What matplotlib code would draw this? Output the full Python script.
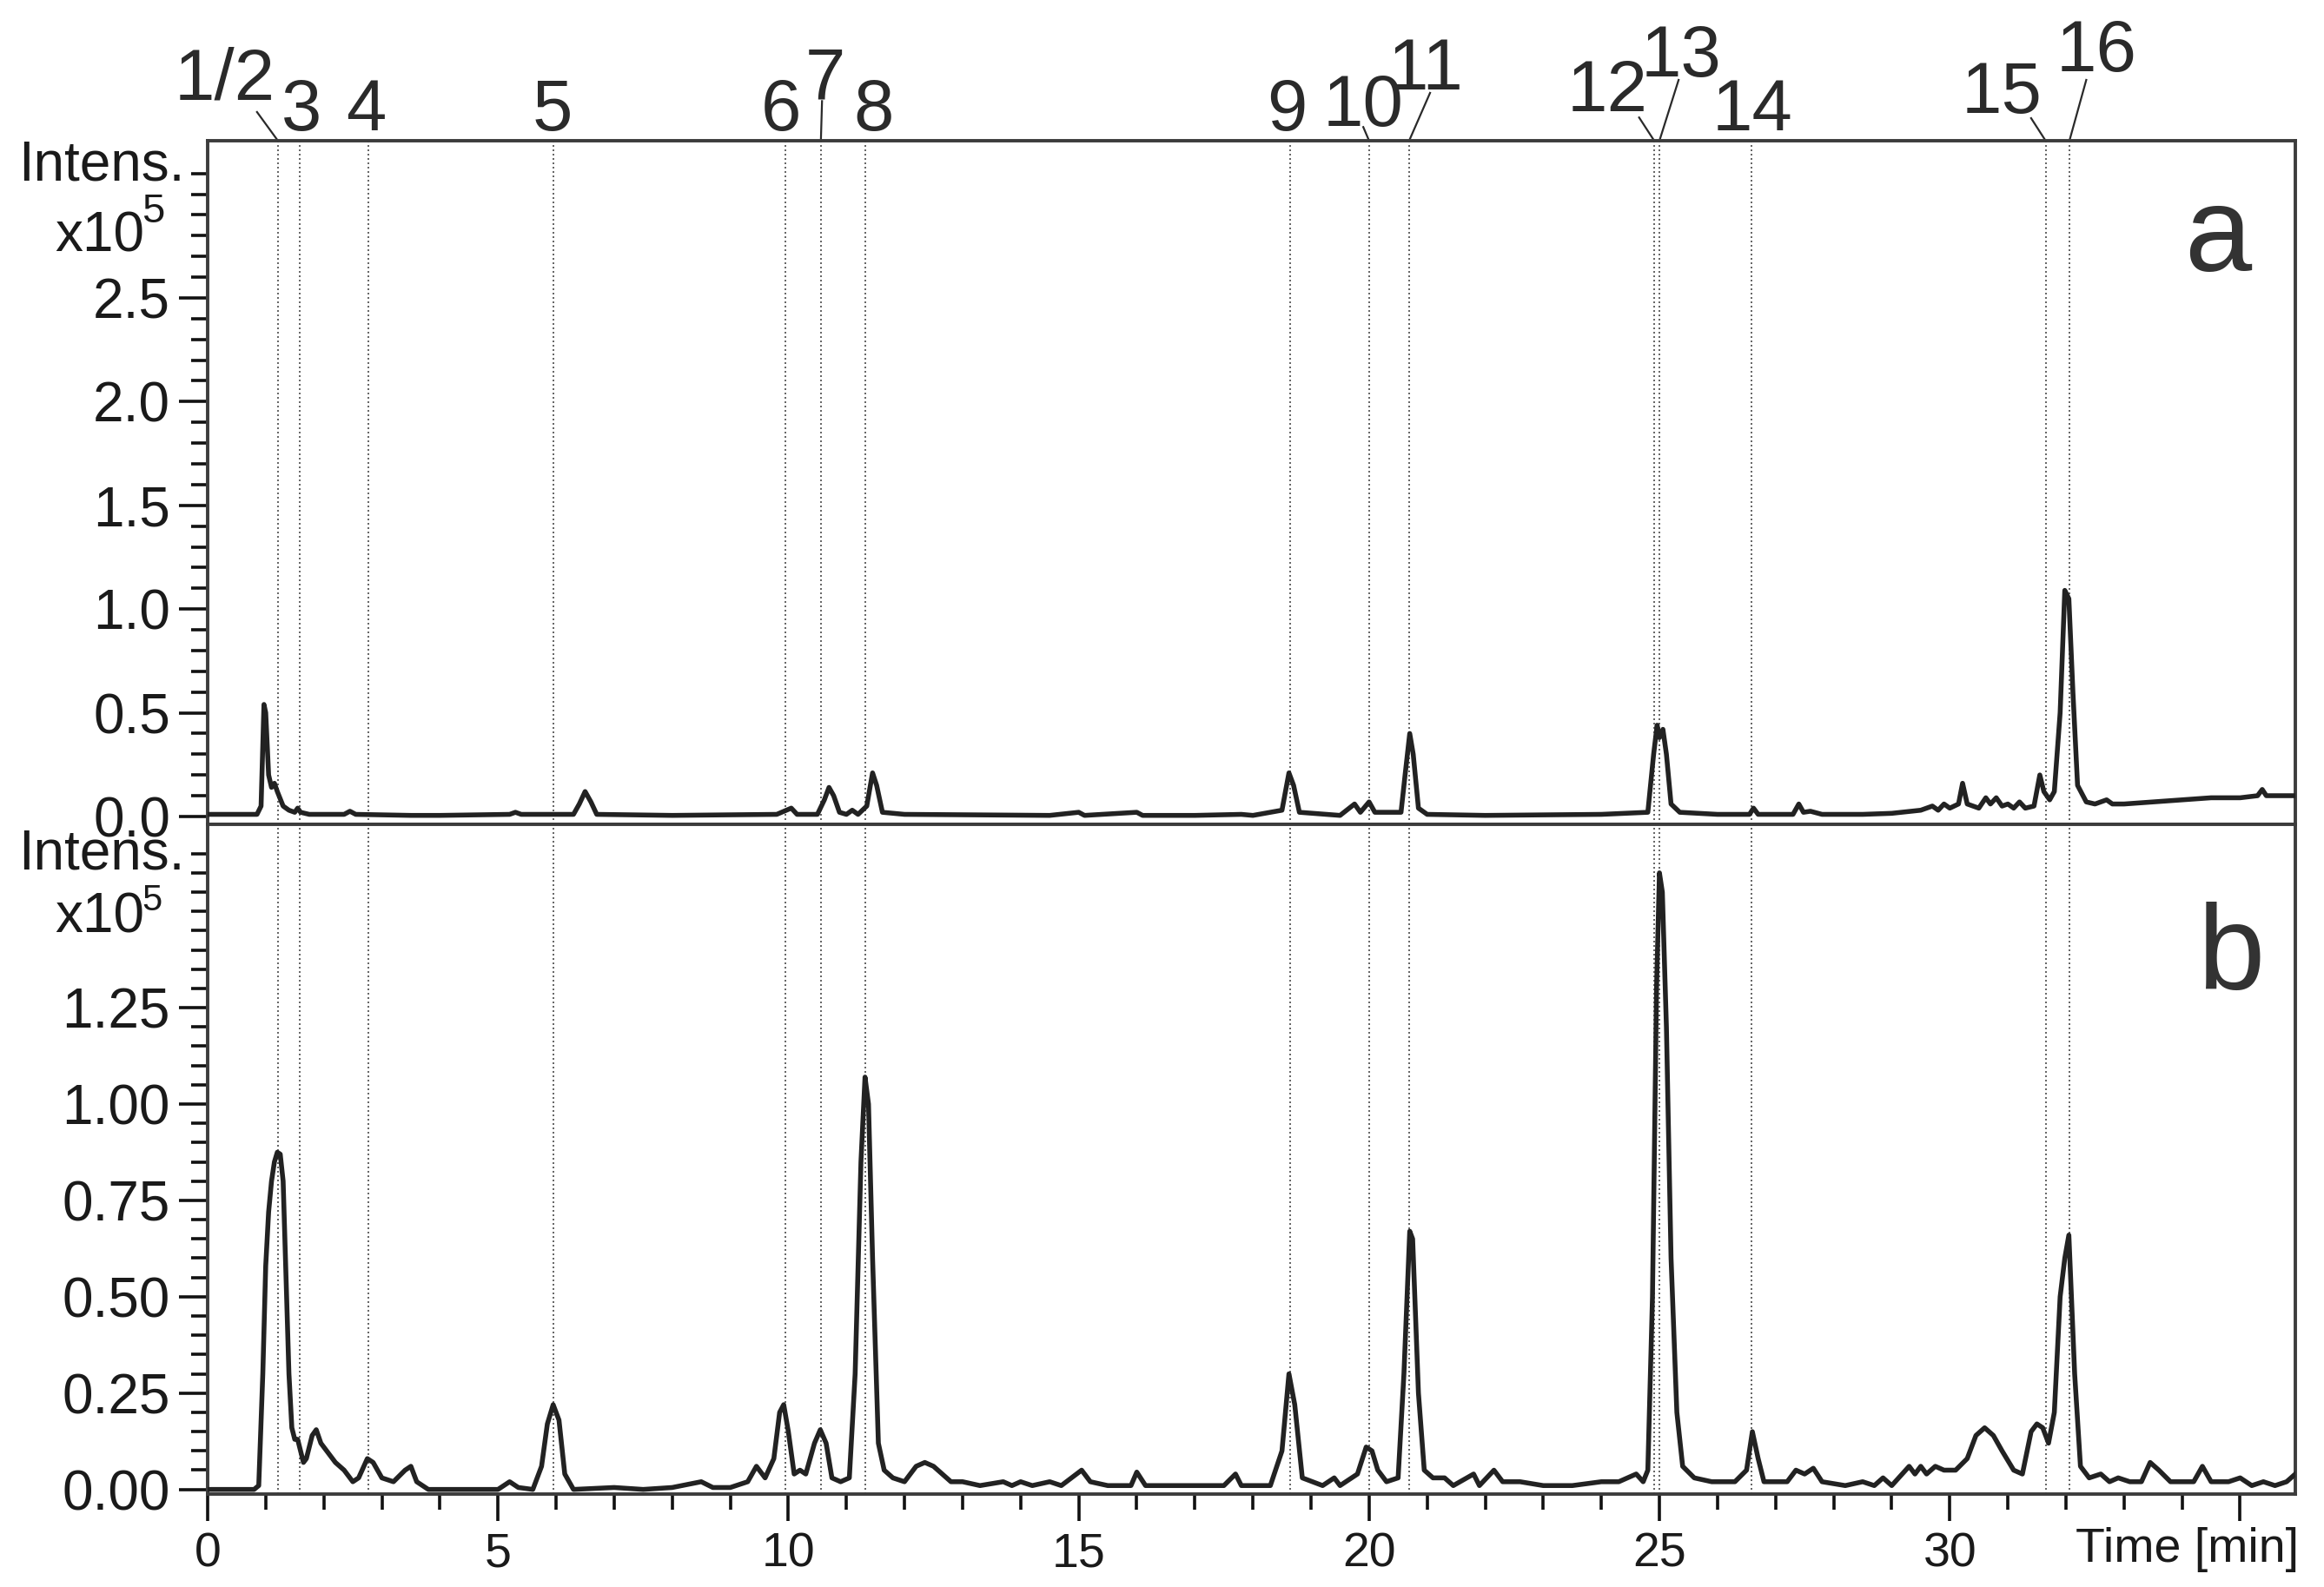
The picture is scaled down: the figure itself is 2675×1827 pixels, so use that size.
import matplotlib
matplotlib.use("Agg")
import matplotlib.pyplot as plt
from matplotlib.ticker import MultipleLocator, FixedLocator, FormatStrFormatter

# ---------------- data (intensity in units of 1e5) ----------------
time_a = [0.0, 0.85, 0.92, 0.97, 1.0, 1.05, 1.1, 1.15, 1.2, 1.3, 1.4, 1.5, 1.55, 1.6, 1.75,
          2.0, 2.35, 2.45, 2.55, 3.5, 4.0, 5.2, 5.3, 5.4, 6.3, 6.4, 6.5, 6.6, 6.7, 8.0,
          9.8, 10.05, 10.15, 10.5, 10.62, 10.7, 10.78, 10.88, 11.0, 11.1, 11.2, 11.35,
          11.45, 11.52, 11.62, 12.0, 14.5, 15.0, 15.1, 16.0, 16.1, 17.0, 17.8, 18.0,
          18.5, 18.62, 18.7, 18.8, 19.5, 19.75, 19.85, 20.0, 20.1, 20.55, 20.62, 20.7,
          20.76, 20.85, 21.0, 22.0, 24.0, 24.8, 24.9, 24.96, 25.0, 25.06, 25.12, 25.2,
          25.35, 26.0, 26.55, 26.62, 26.7, 27.3, 27.4, 27.48, 27.6, 27.8, 28.5, 29.0,
          29.5, 29.7, 29.8, 29.9, 30.0, 30.15, 30.22, 30.3, 30.5, 30.62, 30.7, 30.8,
          30.9, 31.0, 31.1, 31.2, 31.3, 31.45, 31.55, 31.62, 31.72, 31.8, 31.9, 31.98,
          32.05, 32.12, 32.2, 32.35, 32.5, 32.7, 32.8, 33.0, 33.5, 34.0, 34.5, 35.0,
          35.3, 35.38, 35.45, 36.0]
intens_a = [0.01, 0.01, 0.05, 0.54, 0.50, 0.20, 0.14, 0.16, 0.12, 0.05, 0.03, 0.02, 0.04, 0.02, 0.01,
            0.01, 0.01, 0.025, 0.01, 0.005, 0.005, 0.01, 0.02, 0.01, 0.01, 0.06, 0.12, 0.07, 0.01, 0.005,
            0.01, 0.04, 0.01, 0.01, 0.08, 0.14, 0.10, 0.02, 0.01, 0.03, 0.01, 0.05,
            0.21, 0.15, 0.02, 0.01, 0.005, 0.02, 0.005, 0.02, 0.005, 0.005, 0.01, 0.005,
            0.03, 0.21, 0.15, 0.02, 0.005, 0.06, 0.02, 0.07, 0.02, 0.02, 0.20, 0.40,
            0.30, 0.04, 0.01, 0.005, 0.01, 0.02, 0.30, 0.44, 0.38, 0.42, 0.30, 0.06,
            0.02, 0.01, 0.01, 0.04, 0.01, 0.01, 0.06, 0.02, 0.025, 0.01, 0.01, 0.015,
            0.03, 0.05, 0.03, 0.06, 0.04, 0.06, 0.16, 0.06, 0.04, 0.09, 0.06, 0.09,
            0.05, 0.06, 0.04, 0.07, 0.04, 0.05, 0.20, 0.12, 0.08, 0.12, 0.50, 1.09,
            1.05, 0.60, 0.15, 0.07, 0.06, 0.08, 0.06, 0.06, 0.07, 0.08, 0.09, 0.09,
            0.10, 0.13, 0.10, 0.10]

time_b = [0.0, 0.8, 0.88, 0.95, 1.0, 1.05, 1.1, 1.15, 1.2, 1.25, 1.3, 1.35, 1.4, 1.45, 1.5,
          1.55, 1.6, 1.65, 1.7, 1.8, 1.87, 1.95, 2.05, 2.2, 2.35, 2.5, 2.6, 2.75, 2.85,
          3.0, 3.2, 3.4, 3.5, 3.6, 3.8, 5.0, 5.2, 5.35, 5.6, 5.75, 5.85, 5.95, 6.05,
          6.15, 6.3, 7.0, 7.5, 8.0, 8.5, 8.7, 9.0, 9.3, 9.45, 9.6, 9.75, 9.85, 9.92,
          10.0, 10.1, 10.2, 10.3, 10.45, 10.55, 10.65, 10.75, 10.9, 11.05, 11.15, 11.25,
          11.32, 11.38, 11.45, 11.55, 11.65, 11.8, 12.0, 12.2, 12.35, 12.5, 12.65, 12.8,
          13.0, 13.3, 13.7, 13.85, 14.0, 14.2, 14.5, 14.7, 15.05, 15.2, 15.5, 15.9, 16.0,
          16.15, 16.5, 17.0, 17.5, 17.7, 17.8, 18.3, 18.5, 18.62, 18.72, 18.85, 19.2,
          19.4, 19.5, 19.8, 19.95, 20.05, 20.15, 20.3, 20.5, 20.6, 20.7, 20.75, 20.85,
          20.95, 21.1, 21.3, 21.45, 21.8, 21.9, 22.15, 22.3, 22.6, 23.0, 23.5, 24.0,
          24.3, 24.6, 24.72, 24.8, 24.88, 24.95, 25.0, 25.05, 25.12, 25.2, 25.3, 25.4,
          25.6, 25.9, 26.3, 26.5, 26.6, 26.7, 26.8, 27.2, 27.35, 27.5, 27.65, 27.8,
          28.2, 28.5, 28.7, 28.85, 29.0, 29.3, 29.4, 29.5, 29.6, 29.75, 29.9, 30.1,
          30.3, 30.45, 30.6, 30.75, 30.9, 31.1, 31.25, 31.4, 31.5, 31.6, 31.7, 31.8,
          31.9, 31.98, 32.05, 32.15, 32.25, 32.4, 32.6, 32.75, 32.9, 33.1, 33.3, 33.45,
          33.6, 33.8, 34.2, 34.35, 34.5, 34.8, 35.0, 35.2, 35.4, 35.6, 35.8, 35.95]
intens_b = [0.0, 0.0, 0.01, 0.30, 0.58, 0.72, 0.80, 0.85, 0.875, 0.87, 0.80, 0.55, 0.30, 0.16, 0.13,
            0.13, 0.10, 0.07, 0.08, 0.14, 0.155, 0.12, 0.10, 0.07, 0.05, 0.02, 0.03, 0.08, 0.07,
            0.03, 0.02, 0.05, 0.06, 0.02, 0.0, 0.0, 0.02, 0.005, 0.0, 0.06, 0.17, 0.22, 0.18,
            0.04, 0.0, 0.005, 0.0, 0.005, 0.02, 0.005, 0.005, 0.02, 0.06, 0.03, 0.08, 0.20, 0.22,
            0.15, 0.04, 0.05, 0.04, 0.12, 0.155, 0.12, 0.03, 0.02, 0.03, 0.30, 0.85,
            1.07, 1.00, 0.60, 0.12, 0.05, 0.03, 0.02, 0.06, 0.07, 0.06, 0.04, 0.02,
            0.02, 0.01, 0.02, 0.01, 0.02, 0.01, 0.02, 0.01, 0.05, 0.02, 0.01, 0.01, 0.045,
            0.01, 0.01, 0.01, 0.01, 0.04, 0.01, 0.01, 0.10, 0.30, 0.22, 0.03, 0.01,
            0.03, 0.01, 0.04, 0.11, 0.10, 0.05, 0.02, 0.03, 0.30, 0.67, 0.65, 0.25,
            0.05, 0.03, 0.03, 0.01, 0.04, 0.01, 0.05, 0.02, 0.02, 0.01, 0.01, 0.02,
            0.02, 0.04, 0.02, 0.05, 0.50, 1.30, 1.60, 1.55, 1.20, 0.60, 0.20, 0.06,
            0.03, 0.02, 0.02, 0.05, 0.15, 0.08, 0.02, 0.02, 0.05, 0.04, 0.055, 0.02,
            0.01, 0.02, 0.01, 0.03, 0.01, 0.06, 0.04, 0.06, 0.04, 0.06, 0.05, 0.05,
            0.08, 0.14, 0.16, 0.14, 0.10, 0.05, 0.04, 0.15, 0.17, 0.16, 0.12, 0.20,
            0.50, 0.60, 0.66, 0.30, 0.06, 0.03, 0.04, 0.02, 0.03, 0.02, 0.02, 0.07,
            0.05, 0.02, 0.02, 0.06, 0.02, 0.02, 0.03, 0.01, 0.02, 0.01, 0.02, 0.04]

peak_labels = ["1/2", "3", "4", "5", "6", "7", "8", "9", "10", "11", "12", "13", "14", "15", "16"]
peak_times = [1.21, 1.58, 2.77, 5.95, 9.95, 10.56, 11.33, 18.64, 20.0, 20.69, 24.91, 25.0,
              26.59, 31.65, 32.06]

# ---------------- layout (label placement; axes-fraction y above panel a) ----------------
# (text x [min], text baseline y, leader start x, leader start y) ; None = no leader
label_layout = {
    "1/2": (0.30, 1.060, 0.85, 1.042),
    "3": (1.62, 1.015, None, None),
    "4": (2.72, 1.015, None, None),
    "5": (5.93, 1.015, None, None),
    "6": (9.88, 1.015, None, None),
    "7": (10.64, 1.062, 10.58, 1.058),
    "8": (11.47, 1.015, None, None),
    "9": (18.58, 1.015, None, None),
    "10": (19.90, 1.022, 19.90, 1.020),
    "11": (20.98, 1.075, 21.05, 1.070),
    "12": (24.10, 1.043, 24.65, 1.034),
    "13": (25.38, 1.094, 25.33, 1.089),
    "14": (26.60, 1.015, None, None),
    "15": (30.90, 1.041, 31.40, 1.033),
    "16": (32.52, 1.102, 32.35, 1.089),
}

FONT = ["Liberation Sans", "DejaVu Sans"]
plt.rcParams["font.family"] = FONT
TXT = "#1a1a1a"
LINE = "#222222"
SPINE = "#3c3c3c"

W, H = 2675, 1827
fig = plt.figure(figsize=(W / 100, H / 100), dpi=100)
L, R = 239 / W, 2642 / W
y_top_a = 1 - 162 / H
y_mid = 1 - 948.5 / H
y_bot_b = 1 - 1720 / H
ax_a = fig.add_axes([L, y_mid, R - L, y_top_a - y_mid])
ax_b = fig.add_axes([L, y_bot_b, R - L, y_mid - y_bot_b])

for ax in (ax_a, ax_b):
    ax.set_xlim(0, 35.95)
    for s in ax.spines.values():
        s.set_color(SPINE)
        s.set_linewidth(2.8)
    for t in peak_times:
        ax.axvline(t, color="#4a4a4a", lw=1.2, ls=(0, (1.2, 1.8)), zorder=1)
    ax.tick_params(axis="y", which="major", direction="out", length=24, width=2.6,
                   color="#111111", labelsize=46, pad=7, labelcolor=TXT)
    ax.tick_params(axis="y", which="minor", direction="out", length=14, width=2.6,
                   color="#111111")

ax_a.plot(time_a, intens_a, color=LINE, lw=4.0, zorder=3, solid_joinstyle="round")
ax_b.plot(time_b, intens_b, color=LINE, lw=4.0, zorder=3, solid_joinstyle="round")

ax_a.set_ylim(-0.036, 3.258)
ax_a.yaxis.set_major_locator(FixedLocator([0.0, 0.5, 1.0, 1.5, 2.0, 2.5]))
ax_a.yaxis.set_major_formatter(FormatStrFormatter("%.1f"))
ax_a.yaxis.set_minor_locator(FixedLocator([round(0.1 * i, 1) for i in range(0, 32)]))
ax_a.tick_params(axis="x", which="both", bottom=False, labelbottom=False)

ax_b.set_ylim(-0.012, 1.727)
ax_b.yaxis.set_major_locator(FixedLocator([0.0, 0.25, 0.5, 0.75, 1.0, 1.25]))
ax_b.yaxis.set_major_formatter(FormatStrFormatter("%.2f"))
ax_b.yaxis.set_minor_locator(FixedLocator([round(0.05 * i, 2) for i in range(0, 34)]))
ax_b.xaxis.set_major_locator(FixedLocator([0, 5, 10, 15, 20, 25, 30, 35]))
ax_b.xaxis.set_minor_locator(MultipleLocator(1))
ax_b.set_xticklabels(["0", "5", "10", "15", "20", "25", "30", ""])
ax_b.tick_params(axis="x", which="major", direction="out", length=22, width=2.6,
                 color="#111111", labelsize=40, pad=9, labelcolor=TXT)
ax_b.tick_params(axis="x", which="minor", direction="out", length=13, width=2.6,
                 color="#111111")

# panel letters
ax_a.text(0.963, 0.855, "a", transform=ax_a.transAxes, fontsize=100, color="#333333",
          ha="center", va="center")
ax_b.text(0.969, 0.80, "b", transform=ax_b.transAxes, fontsize=100, color="#333333",
          ha="center", va="center")

# axis title texts
def fx(px):
    return px / W

def fy(py):
    return 1 - py / H

for base_int, base_x10, base_sup, sup_size in ((207, 290, 256, 34), (1000, 1074, 1048, 30)):
    fig.text(fx(213), fy(base_int), "Intens.", fontsize=46, ha="right", va="baseline", color=TXT)
    fig.text(fx(166), fy(base_x10), "x10", fontsize=46, ha="right", va="baseline", color=TXT)
    fig.text(fx(163), fy(base_sup), "5", fontsize=sup_size, ha="left", va="baseline", color=TXT)

fig.text(fx(2646), fy(1798), "Time [min]", fontsize=40, ha="right", va="baseline", color=TXT)

# peak labels above panel a
for lab, t in zip(peak_labels, peak_times):
    tx, ty, lx, ly = label_layout[lab]
    ax_a.text(tx, ty, lab, transform=ax_a.get_xaxis_transform(), fontsize=60,
              ha="center", va="baseline", color="#2a2a2a", clip_on=False)
    if lx is not None:
        ax_a.plot([lx, t], [ly, 1.0], transform=ax_a.get_xaxis_transform(),
                  color="#2a2a2a", lw=1.6, clip_on=False)

fig.savefig("out.png", dpi=100)
